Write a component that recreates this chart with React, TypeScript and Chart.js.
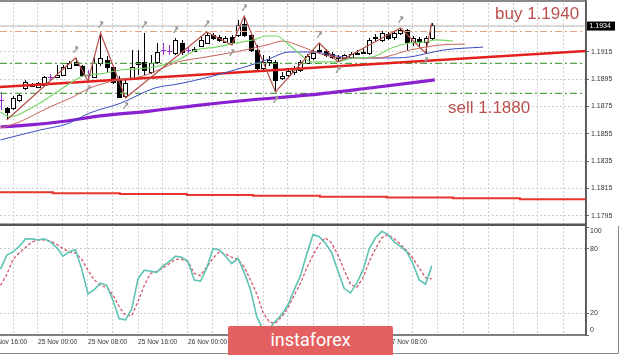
import React, { useEffect, useRef } from 'react';
import { Chart, registerables } from 'chart.js';
Chart.register(...registerables);

// x axis: hours from 25 Nov 00:00; first H1 candle is 24 Nov 18:00
const FIRST_CANDLE_HOUR = -6;
const X_MIN = -6.08;
const X_MAX = 87.68;
const Y_MIN = 1.17889;
const Y_MAX = 1.19509;

const candleOpen = [
  1.18798, 1.18739, 1.18739, 1.18798, 1.18886, 1.18915, 1.18893, 1.18908, 1.18967, 1.18967,
  1.18981, 1.19033, 1.19077, 1.19047, 1.18981, 1.18967, 1.19069, 1.19091, 1.19040, 1.18945,
  1.18827, 1.18959, 1.19062, 1.19077, 1.19003, 1.19077, 1.19164, 1.19157, 1.19143, 1.19216,
  1.19164, 1.19157, 1.19194, 1.19216, 1.19274, 1.19260, 1.19223, 1.19260, 1.19274, 1.19355,
  1.19274, 1.19164, 1.19033, 1.19077, 1.19077, 1.18959, 1.18981, 1.19003, 1.19018, 1.19069,
  1.19106, 1.19157, 1.19157, 1.19135, 1.19113, 1.19106, 1.19113, 1.19135, 1.19143, 1.19143,
  1.19252, 1.19238, 1.19282, 1.19260, 1.19289, 1.19311, 1.19223, 1.19245, 1.19223, 1.19252,
];
const candleHigh = [
  1.18857, 1.18747, 1.18827, 1.18849, 1.18945, 1.18923, 1.18930, 1.18974, 1.18989, 1.19055,
  1.19055, 1.19084, 1.19106, 1.19055, 1.19018, 1.19128, 1.19289, 1.19121, 1.19047, 1.18974,
  1.18959, 1.19164, 1.19164, 1.19289, 1.19128, 1.19216, 1.19216, 1.19201, 1.19252, 1.19238,
  1.19186, 1.19186, 1.19260, 1.19296, 1.19289, 1.19274, 1.19267, 1.19274, 1.19384, 1.19414,
  1.19289, 1.19201, 1.19128, 1.19121, 1.19091, 1.19003, 1.19033, 1.19047, 1.19091, 1.19135,
  1.19164, 1.19216, 1.19172, 1.19150, 1.19128, 1.19135, 1.19150, 1.19164, 1.19179, 1.19252,
  1.19282, 1.19304, 1.19296, 1.19304, 1.19326, 1.19318, 1.19267, 1.19260, 1.19267, 1.19362,
];
const candleLow = [
  1.18725, 1.18651, 1.18725, 1.18783, 1.18871, 1.18893, 1.18886, 1.18901, 1.18945, 1.18959,
  1.18974, 1.19025, 1.19047, 1.18967, 1.18937, 1.18959, 1.19047, 1.19003, 1.18915, 1.18813,
  1.18813, 1.18945, 1.18981, 1.18981, 1.18989, 1.19062, 1.19128, 1.19128, 1.19128, 1.19128,
  1.19143, 1.19150, 1.19186, 1.19208, 1.19238, 1.19223, 1.19216, 1.19201, 1.19260, 1.19260,
  1.19150, 1.19018, 1.19018, 1.19047, 1.18857, 1.18945, 1.18959, 1.18981, 1.19003, 1.19062,
  1.19091, 1.19143, 1.19113, 1.19099, 1.19077, 1.19091, 1.19099, 1.19128, 1.19135, 1.19128,
  1.19223, 1.19223, 1.19238, 1.19238, 1.19274, 1.19164, 1.19194, 1.19186, 1.19143, 1.19238,
];
const candleClose = [
  1.18798, 1.18710, 1.18813, 1.18835, 1.18930, 1.18901, 1.18923, 1.18967, 1.18967, 1.18981,
  1.19040, 1.19069, 1.19055, 1.18981, 1.18981, 1.19069, 1.19106, 1.19040, 1.18930, 1.18820,
  1.18923, 1.19040, 1.19077, 1.19018, 1.19069, 1.19150, 1.19164, 1.19157, 1.19238, 1.19150,
  1.19164, 1.19172, 1.19238, 1.19274, 1.19252, 1.19238, 1.19252, 1.19223, 1.19348, 1.19274,
  1.19164, 1.19033, 1.19077, 1.19091, 1.18945, 1.18974, 1.19011, 1.19033, 1.19077, 1.19121,
  1.19143, 1.19164, 1.19128, 1.19113, 1.19106, 1.19128, 1.19135, 1.19143, 1.19150, 1.19238,
  1.19260, 1.19289, 1.19252, 1.19289, 1.19311, 1.19223, 1.19252, 1.19223, 1.19252, 1.19348,
];

const fractalUp = [12, 16, 23, 28, 33, 39, 51, 64];
const fractalDown = [14, 20, 37, 44, 54, 68];

const zigzagHours = [-5, 6, 8, 10, 14, 27, 31, 33, 38, 45, 48, 58, 62, 63];
const zigzagPrices = [1.18651, 1.19106, 1.18937, 1.19289, 1.18813, 1.19296, 1.19201, 1.19414, 1.18857, 1.19216, 1.19077, 1.19326, 1.19143, 1.19362];

const lipsHours = [-6, -4.5, -0.8, 4, 7.2, 9.9, 13.3, 18.7, 22.4, 25.3, 28.5, 31.7, 34.4, 36.6, 38.2, 39.8, 42.1, 43.7, 47.4, 50.6, 53.4, 56.6, 59.4, 61.9, 63.8, 66.4];
const lipsPrices = [1.18710, 1.18673, 1.18747, 1.18886, 1.18974, 1.18989, 1.19018, 1.19040, 1.19091, 1.19164, 1.19186, 1.19216, 1.19238, 1.19267, 1.19267, 1.19216, 1.19128, 1.19077, 1.19077, 1.19106, 1.19113, 1.19179, 1.19216, 1.19223, 1.19238, 1.19230];

const teethHours = [-6, -3.4, 1.9, 5.6, 8.3, 12.8, 16.8, 22.4, 25.9, 30.7, 33.9, 36.6, 39.2, 41.9, 45.3, 48.8, 54.2, 59.5, 64.3, 68.3];
const teethPrices = [1.18593, 1.18629, 1.18747, 1.18820, 1.18886, 1.18945, 1.18974, 1.19077, 1.19106, 1.19143, 1.19172, 1.19201, 1.19230, 1.19194, 1.19135, 1.19106, 1.19106, 1.19164, 1.19201, 1.19208];

const jawHours = [-6, 0.3, 4.6, 8.3, 13.3, 18.7, 22.4, 27.4, 32.6, 36.5, 40.3, 44.2, 46.9, 50.1, 55.5, 59.4, 62.6, 64.8, 71.2];
const jawPrices = [1.18505, 1.18578, 1.18622, 1.18703, 1.18776, 1.18886, 1.18915, 1.18967, 1.19033, 1.19091, 1.19150, 1.19150, 1.19128, 1.19106, 1.19106, 1.19113, 1.19143, 1.19164, 1.19186];

const slowMaHours = [-6, -1.3, 4.6, 9.9, 17.9, 25.9, 33.9, 43.5, 53.1, 63.5];
const slowMaPrices = [1.18600, 1.18615, 1.18644, 1.18681, 1.18717, 1.18761, 1.18798, 1.18835, 1.18886, 1.18945];

const trendHours = [X_MIN, X_MAX];
const trendPrices = [1.18893, 1.19157];

const dailyMaHours = [X_MIN, 2.4, 13.1, 23.8, 34.4, 45.1, 55.8, 66.4, 77.1, X_MAX];
const dailyMaPrices = [1.18121, 1.18115, 1.18109, 1.18102, 1.18096, 1.18089, 1.18083, 1.18077, 1.18070, 1.18070];

const CURRENT_PRICE = 1.1934;
const BUY_LEVEL = 1.1930;
const GREEN_LEVELS = [1.19067, 1.18847];

const priceTicks = [1.1795, 1.1815, 1.1835, 1.1855, 1.1875, 1.1895, 1.1915];
const gridHours = [-4, 0, 4, 8, 12, 16, 20, 24, 28, 32, 36, 40, 44, 48, 52, 56, 60, 64, 68, 72, 76, 80, 84];
const timeLabelHours = [-8, 0, 8, 16, 24, 32, 40, 48, 56];
const timeLabels = ['24 Nov 16:00', '25 Nov 00:00', '25 Nov 08:00', '25 Nov 16:00', '26 Nov 00:00', '26 Nov 08:00', '26 Nov 16:00', '27 Nov 00:00', '27 Nov 08:00'];

const stochMain = [
  61, 74, 77, 82, 89, 89, 88, 89, 86, 81,
  73, 77, 79, 61, 38, 42, 48, 46, 32, 15,
  14, 24, 52, 60, 59, 58, 64, 68, 73, 72,
  68, 51, 50, 62, 80, 79, 73, 66, 71, 58,
  42, 17, 5, 6, 13, 19, 28, 42, 55, 75,
  93, 91, 85, 76, 59, 43, 39, 48, 60, 80,
  90, 96, 93, 86, 82, 77, 66, 51, 47, 64,
];
const stochSignal = [
  46, 56, 70, 76, 81, 86, 88, 88, 87, 84,
  80, 77, 76, 70, 60, 51, 46, 44, 37, 26,
  18, 18, 31, 46, 57, 59, 62, 66, 70, 70,
  68, 57, 55, 63, 71, 77, 75, 72, 70, 63,
  51, 38, 21, 12, 11, 17, 25, 37, 48, 62,
  74, 84, 90, 85, 74, 60, 47, 44, 53, 68,
  80, 90, 93, 89, 84, 78, 71, 62, 53, 52,
];
const stochTicks = [0, 20, 80, 100];

const FONT = '"Liberation Sans", Arial, sans-serif';
const pts = (xs: number[], ys: number[]) => xs.map((x, i) => ({ x, y: ys[i] }));
const candleHour = (i: number) => FIRST_CANDLE_HOUR + i;

const candlePlugin = {
  id: 'candles',
  beforeDatasetsDraw(chart: any) {
    const { ctx, chartArea: a, scales } = chart;
    const xs = scales.x, ys = scales.y;
    ctx.save();
    ctx.beginPath();
    ctx.rect(a.left, a.top, a.right - a.left, a.bottom - a.top);
    ctx.clip();
    for (let i = 0; i < candleOpen.length; i++) {
      const cx = Math.round(xs.getPixelForValue(candleHour(i)));
      const yo = ys.getPixelForValue(candleOpen[i]);
      const yc = ys.getPixelForValue(candleClose[i]);
      const yh = ys.getPixelForValue(candleHigh[i]);
      const yl = ys.getPixelForValue(candleLow[i]);
      const doji = candleOpen[i] === candleClose[i];
      const col = doji ? '#9b30d0' : '#000';
      ctx.fillStyle = col;
      ctx.fillRect(cx, Math.round(yh), 1, Math.max(1, Math.round(yl) - Math.round(yh)));
      const top = Math.round(Math.min(yo, yc));
      const h = Math.max(1, Math.round(Math.abs(yo - yc)));
      if (doji) {
        ctx.fillRect(cx - 2, top, 5, 1);
      } else {
        ctx.fillStyle = '#000';
        ctx.fillRect(cx - 2, top, 5, h + 1);
        if (candleClose[i] > candleOpen[i] && h > 1) {
          ctx.fillStyle = '#fff';
          ctx.fillRect(cx - 1, top + 1, 3, h - 1);
        }
      }
    }
    ctx.restore();
  },
};

const glyph = (ctx: CanvasRenderingContext2D, x: number, y: number) => {
  ctx.beginPath();
  ctx.moveTo(x - 2, y + 3);
  ctx.lineTo(x + 2, y - 3);
  ctx.moveTo(x - 0.5, y - 3);
  ctx.lineTo(x + 2, y - 3);
  ctx.lineTo(x + 2, y - 0.5);
  ctx.stroke();
};

const topDecor = {
  id: 'topDecor',
  afterDatasetsDraw(chart: any) {
    const { ctx, scales } = chart;
    const xs = scales.x, ys = scales.y;
    ctx.save();
    ctx.strokeStyle = '#9a9a9a';
    ctx.lineWidth = 1.3;
    fractalUp.forEach((i) => glyph(ctx, xs.getPixelForValue(candleHour(i)), ys.getPixelForValue(candleHigh[i]) - 8));
    fractalDown.forEach((i) => glyph(ctx, xs.getPixelForValue(candleHour(i)), ys.getPixelForValue(candleLow[i]) + 8));
    ctx.restore();
  },
  afterDraw(chart: any) {
    const { ctx, chartArea: a, scales } = chart;
    const ys = scales.y;
    ctx.save();
    // frame
    ctx.strokeStyle = '#8a8a8a';
    ctx.lineWidth = 2;
    ctx.beginPath(); ctx.moveTo(0, 1); ctx.lineTo(a.right, 1); ctx.stroke();
    ctx.strokeStyle = '#555';
    ctx.lineWidth = 2.5;
    ctx.beginPath(); ctx.moveTo(0, 224.8); ctx.lineTo(a.right, 224.8); ctx.stroke();
    ctx.lineWidth = 1.5;
    ctx.beginPath(); ctx.moveTo(a.right, 0); ctx.lineTo(a.right, 226); ctx.stroke();
    // price labels
    ctx.font = '7px ' + FONT;
    ctx.fillStyle = '#333';
    ctx.textAlign = 'left';
    ctx.textBaseline = 'middle';
    priceTicks.forEach((v) => ctx.fillText(v.toFixed(4), a.right + 5, ys.getPixelForValue(v)));
    const py = ys.getPixelForValue(CURRENT_PRICE);
    ctx.fillStyle = '#000';
    ctx.fillRect(a.right + 1, py - 4.5, 28, 9);
    ctx.fillStyle = '#fff';
    ctx.fillText(CURRENT_PRICE.toFixed(4), a.right + 3.5, py);
    // annotations
    ctx.font = '17px ' + FONT;
    ctx.fillStyle = '#b9504d';
    ctx.textBaseline = 'alphabetic';
    ctx.fillText('buy 1.1940', 495, 18.5);
    ctx.fillText('sell 1.1880', 448, 113);
    ctx.restore();
  },
};

const bottomDecor = {
  id: 'bottomDecor',
  afterDraw(chart: any) {
    const { ctx, chartArea: a, scales } = chart;
    const xs = scales.x, ys = scales.y;
    ctx.save();
    ctx.strokeStyle = '#555';
    ctx.lineWidth = 1.5;
    ctx.beginPath(); ctx.moveTo(0, a.bottom); ctx.lineTo(a.right, a.bottom); ctx.stroke();
    ctx.beginPath(); ctx.moveTo(a.right, 0); ctx.lineTo(a.right, a.bottom); ctx.stroke();
    ctx.strokeStyle = '#8a8a8a';
    ctx.lineWidth = 1;
    ctx.beginPath(); ctx.moveTo(0, 127.5); ctx.lineTo(618.5, 127.5); ctx.lineTo(618.5, 0); ctx.stroke();
    ctx.font = '7px ' + FONT;
    ctx.fillStyle = '#333';
    ctx.textAlign = 'left';
    ctx.textBaseline = 'middle';
    stochTicks.forEach((v) => {
      const y = Math.min(a.bottom - 5, Math.max(a.top + 4, ys.getPixelForValue(v)));
      ctx.fillText(String(v), a.right + 4, y);
    });
    ctx.font = '6.6px ' + FONT;
    timeLabelHours.forEach((h, i) => ctx.fillText(timeLabels[i], xs.getPixelForValue(h), a.bottom + 7.5));
    ctx.restore();
  },
};

const xGrid = {
  type: 'linear' as const,
  min: X_MIN,
  max: X_MAX,
  afterBuildTicks: (s: any) => { s.ticks = gridHours.map((value) => ({ value })); },
  ticks: { display: false },
  grid: { color: '#cfcfcf', drawTicks: false, lineWidth: 1 },
  border: { display: false, dash: [2, 2] },
};

export default function App() {
  const topRef = useRef<HTMLCanvasElement>(null);
  const botRef = useRef<HTMLCanvasElement>(null);

  useEffect(() => {
    const line = (data: any[], color: string, width: number, extra: any = {}) => ({
      data, borderColor: color, borderWidth: width, pointRadius: 0, fill: false, ...extra,
    });
    const top = new Chart(topRef.current as HTMLCanvasElement, {
      type: 'line',
      data: {
        datasets: [
          line(pts(zigzagHours, zigzagPrices), '#b4504c', 1.2, { tension: 0 }),
          line(pts(lipsHours, lipsPrices), '#78d866', 1.2, { cubicInterpolationMode: 'monotone' }),
          line(pts(teethHours, teethPrices), '#c8625c', 1, { cubicInterpolationMode: 'monotone' }),
          line(pts(jawHours, jawPrices), '#3a4cc4', 1, { cubicInterpolationMode: 'monotone' }),
          line(pts(slowMaHours, slowMaPrices), '#8a20d0', 3.2, { cubicInterpolationMode: 'monotone' }),
          line(pts(trendHours, trendPrices), '#e3201c', 2.4),
          line(pts(dailyMaHours, dailyMaPrices), '#e8352f', 2, { stepped: 'before' }),
          line(pts([X_MIN, X_MAX], [CURRENT_PRICE, CURRENT_PRICE]), '#b0b0b0', 1),
          line(pts([X_MIN, X_MAX], [BUY_LEVEL, BUY_LEVEL]), '#e2a27e', 1.2, { borderDash: [7, 3, 2, 3] }),
          line(pts([X_MIN, X_MAX], [GREEN_LEVELS[0], GREEN_LEVELS[0]]), '#5aa34e', 1.2, { borderDash: [7, 3, 2, 3] }),
          line(pts([X_MIN, X_MAX], [GREEN_LEVELS[1], GREEN_LEVELS[1]]), '#5aa34e', 1.2, { borderDash: [7, 3, 2, 3] }),
        ],
      },
      options: {
        responsive: false,
        maintainAspectRatio: false,
        animation: false,
        events: [],
        layout: { padding: { top: 3, bottom: 2, left: 0, right: 0 } },
        plugins: { legend: { display: false }, tooltip: { enabled: false } },
        scales: {
          x: { ...xGrid, afterFit: (s: any) => { s.height = 0; } },
          y: {
            type: 'linear',
            position: 'right',
            min: Y_MIN,
            max: Y_MAX,
            afterBuildTicks: (s: any) => { s.ticks = priceTicks.map((value) => ({ value })); },
            afterFit: (s: any) => { s.width = 34; },
            ticks: { display: false },
            grid: { color: '#cfcfcf', tickLength: 3, tickColor: '#666' },
            border: { display: true, color: '#555', width: 1.5, dash: [2, 2] },
          },
        },
      } as any,
      plugins: [candlePlugin, topDecor],
    });

    const hours = stochMain.map((_, i) => candleHour(i));
    const bot = new Chart(botRef.current as HTMLCanvasElement, {
      type: 'line',
      data: {
        datasets: [
          line(pts(hours, stochMain), '#5ec3b2', 1.6, { tension: 0 }),
          line(pts(hours, stochSignal), '#d4566a', 1.3, { tension: 0, borderDash: [3, 2] }),
        ],
      },
      options: {
        responsive: false,
        maintainAspectRatio: false,
        animation: false,
        events: [],
        layout: { padding: { top: 1, bottom: 0, left: 0, right: 0 } },
        plugins: { legend: { display: false }, tooltip: { enabled: false } },
        scales: {
          x: { ...xGrid, afterFit: (s: any) => { s.height = 20; } },
          y: {
            type: 'linear',
            position: 'right',
            min: 0,
            max: 100,
            afterBuildTicks: (s: any) => { s.ticks = stochTicks.map((value) => ({ value })); },
            afterFit: (s: any) => { s.width = 34; },
            ticks: { display: false },
            grid: {
              color: (c: any) => (c.tick && (c.tick.value === 20 || c.tick.value === 80) ? '#c8c8c8' : 'rgba(0,0,0,0)'),
              tickLength: 3,
              tickColor: '#666',
            },
            border: { display: true, color: '#555', width: 1.5, dash: [2, 2] },
          },
        },
      } as any,
      plugins: [bottomDecor],
    });

    return () => { top.destroy(); bot.destroy(); };
  }, []);

  return (
    <div style={{ position: 'fixed', left: 0, top: 0, width: 620, height: 355, background: '#fff', overflow: 'hidden' }}>
      <canvas ref={topRef} width={620} height={226} style={{ position: 'absolute', left: 0, top: 0, width: 620, height: 226 }} />
      <canvas ref={botRef} width={620} height={129} style={{ position: 'absolute', left: 0, top: 226, width: 620, height: 129 }} />
      <div
        style={{
          position: 'absolute', left: 228, top: 326, width: 165, height: 29, background: '#e35f60',
          color: '#fff', fontFamily: 'Roboto, "Open Sans", sans-serif', fontSize: 18, lineHeight: '28px',
          textAlign: 'center', borderRadius: '2px 2px 0 0',
        }}
      >
        instaforex
      </div>
    </div>
  );
}
